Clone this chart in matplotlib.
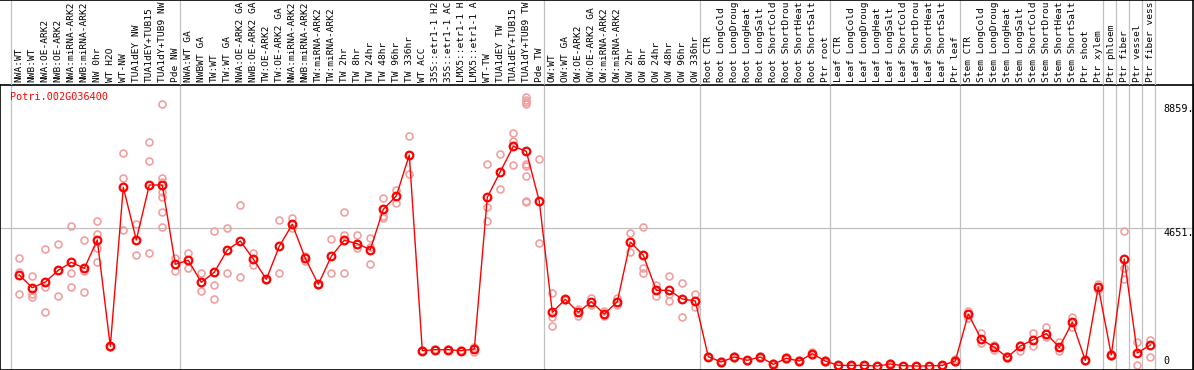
import matplotlib
matplotlib.use("Agg")
import matplotlib.pyplot as plt
from matplotlib.lines import Line2D

gene = "Potri.002G036400"

groups = [
    ["NWA:WT", "NWB:WT", "NWA:OE-ARK2", "NWB:OE-ARK2", "NWA:miRNA-ARK2", "NWB:miRNA-ARK2",
     "NW 0hr", "WT H2O", "WT-NW", "TUA1dEY NW", "TUA1dEY+TUB15 NW", "TUA1dY+TUB9 NW", "Pde NW"],
    ["NWA:WT GA", "NWBWT GA", "TW:WT", "TW:WT GA", "NWA:OE-ARK2 GA", "NWB:OE-ARK2 GA",
     "TW:OE-ARK2", "TW:OE-ARK2 GA", "NWA:miRNA-ARK2", "NWB:miRNA-ARK2", "TW:miRNA-ARK2",
     "TW:miRNA-ARK2", "TW 2hr", "TW 8hr", "TW 24hr", "TW 48hr", "TW 96hr", "TW 336hr", "WT ACC",
     "35S::etr1-1 H2O", "35S::etr1-1 ACC", "LMX5::etr1-1 H2O", "LMX5::etr1-1 ACC", "WT-TW",
     "TUA1dEY TW", "TUA1dEY+TUB15 TW", "TUA1dY+TUB9 TW", "Pde TW"],
    ["OW:WT", "OW:WT GA", "OW:OE-ARK2", "OW:OE-ARK2 GA", "OW:miRNA-ARK2", "OW:miRNA-ARK2",
     "OW 2hr", "OW 8hr", "OW 24hr", "OW 48hr", "OW 96hr", "OW 336hr"],
    ["Root CTR", "Root LongCold", "Root LongDrought", "Root LongHeat", "Root LongSalt",
     "Root ShortCold", "Root ShortDrought", "Root ShortHeat", "Root ShortSalt", "Ptr root"],
    ["Leaf CTR", "Leaf LongCold", "Leaf LongDrought", "Leaf LongHeat", "Leaf LongSalt",
     "Leaf ShortCold", "Leaf ShortDrought", "Leaf ShortHeat", "Leaf ShortSalt", "Ptr leaf"],
    ["Stem CTR", "Stem LongCold", "Stem LongDrought", "Stem LongHeat", "Stem LongSalt",
     "Stem ShortCold", "Stem ShortDrought", "Stem ShortHeat", "Stem ShortSalt", "Ptr shoot",
     "Ptr xylem"],
    ["Ptr phloem"],
    ["Ptr fiber"],
    ["Ptr vessel"],
    ["Ptr fiber vessel"],
]

means = [
    3074, 2645, 2837, 3232, 3503, 3300, 4256, 665, 6036, 4256, 6113, 6113, 3435,
    3570, 2827, 3165, 3918, 4222, 3614, 2928, 4043, 4786, 3638, 2760, 3705, 4246, 4131,
    3928, 5293, 5742, 7127, 517, 551, 551, 517, 574, 5698, 6563, 7421, 7252, 5563,
    1814, 2253, 1814, 2172, 1756, 2172, 4188, 3739, 2557, 2557, 2263, 2195,
    314, 135, 304, 193, 304, 57, 260, 169, 415, 169,
    20, 20, 20, 0, 68, 10, 0, 5, 20, 169,
    1756, 901, 631, 293, 676, 890, 1092, 631, 1475, 191, 2668,
    372, 3614, 439, 709,
]

replicates = [
    [3648, 3185, 2422], [3040, 2422, 2341], [3952, 2668, 1814], [4111, 3232, 2364],
    [4719, 3131, 2658], [4246, 3209, 2489], [4898, 4458, 3975, 3503], [640, 665, 690],
    [7184, 6340, 4583], [4786, 3739], [7556, 6914, 3807],
    [8859, 6340, 6205, 5867, 5698, 5191, 4685], [3638, 3219],
    [3807, 3300], [3131, 2523], [4550, 2726, 2253], [4651, 3131], [5428, 2996],
    [3817, 3411], [2900, 2950], [4931, 3131], [4999, 4651], [3725, 3557], [2740, 2780],
    [4290, 3131], [5202, 4425, 3131], [4425, 3996], [4313, 4036, 3435],
    [5674, 5077, 4989], [5945, 5516], [7770, 6475], [490, 545], [530, 570], [535, 565],
    [500, 535], [652, 483], [6823, 5370, 4898], [7150, 5968], [7860, 7600, 6779],
    [9076, 8984, 8907, 8839, 6823, 6755, 6417, 5563, 5529], [6992, 4144],
    [2456, 1645, 1341], [2230, 2275], [1936, 1699], [2287, 2060], [1858, 1679],
    [2287, 2060], [4492, 3861], [4685, 3320, 3151], [2736, 2375], [3040, 2432, 2185],
    [2793, 1645], [2432, 1983],
    [290, 340], [110, 160], [270, 340], [175, 210], [280, 330], [20, 95], [220, 300],
    [150, 190], [370, 460], [150, 190],
    [10, 30], [10, 30], [10, 30], [0, 5], [50, 85], [5, 15], [0, 5], [0, 10], [10, 30],
    [120, 220],
    [1858, 1632], [1104, 787], [720, 540], [260, 330], [709, 517], [1104, 676],
    [1317, 969], [811, 517], [1645, 1327], [170, 210], [2780, 2557],
    [350, 395], [4560, 3320, 2928], [811, 24], [878, 294],
]

ytick_vals = [8859, 4651, 0]
ytick_text = ["8859.", "4651.", "0"]

labels = [s for g in groups for s in g]
n = len(labels)
x = list(range(n))

# the label strip only holds 14 characters, longer names get cut like in the original
maxchars = 14
shown = [s[:maxchars].rstrip() for s in labels]

# group separators sit a little right of each group's last column
seps = [-0.66]
pos = -1
for g in groups:
    pos += len(g)
    seps.append(pos + 0.37)

W, H, top = 1194, 370, 85
xlim = (-19.3 / 13, (W - 19.3) / 13)
mono = "DejaVu Sans Mono"
grey = "#c0c0c0"

fig = plt.figure(figsize=(W / 100, H / 100), dpi=100)
ax = fig.add_axes([0, 0, 1, (H - top) / H])
lab = fig.add_axes([0, (H - top) / H, 1, top / H])

ax.set_xlim(*xlim)
ax.set_ylim(-135, 9491)
ax.set_xticks([])
ax.set_yticks([])
for sp in ax.spines.values():
    sp.set_linewidth(1.2)
    sp.set_color("black")

lab.set_xlim(*xlim)
lab.set_ylim(0, 1)
lab.axis("off")

for s in seps:
    ax.axvline(s, color=grey, lw=0.9, zorder=0)
    lab.axvline(s, color=grey, lw=0.9, zorder=0)
ax.axhline(ytick_vals[1], color=grey, lw=0.9, zorder=0)

# replicate samples
for i, reps in enumerate(replicates):
    ax.plot([i] * len(reps), reps, "o", ms=5, mfc="none", mec="#f0a0a0", mew=1.2, zorder=2)

ax.plot(x, means, "-", color="red", lw=1.0, zorder=3)
ax.plot(x, means, "o", ms=5.5, mfc="none", mec="red", mew=1.6, zorder=4)

ax.text(10 / W, (H - 97) / (H - top), gene, transform=ax.transAxes, color="red",
        family=mono, fontsize=7.3, ha="left", va="center")

for v, t in zip(ytick_vals, ytick_text):
    ax.text(87.98, v, t, family=mono, fontsize=7.3, ha="left",
            va="bottom" if v == 0 else "top")

for i, s in enumerate(shown):
    lab.text(i, 0.03, s, rotation=90, ha="center", va="bottom", family=mono,
             fontsize=6.8, color="black")

# outer border around the label strip
fig.add_artist(Line2D([0, 1], [0.999, 0.999], color="black", lw=1.2))
fig.add_artist(Line2D([0.9992, 0.9992], [0, 1], color="black", lw=1.2))

fig.savefig("out.png", dpi=100)
